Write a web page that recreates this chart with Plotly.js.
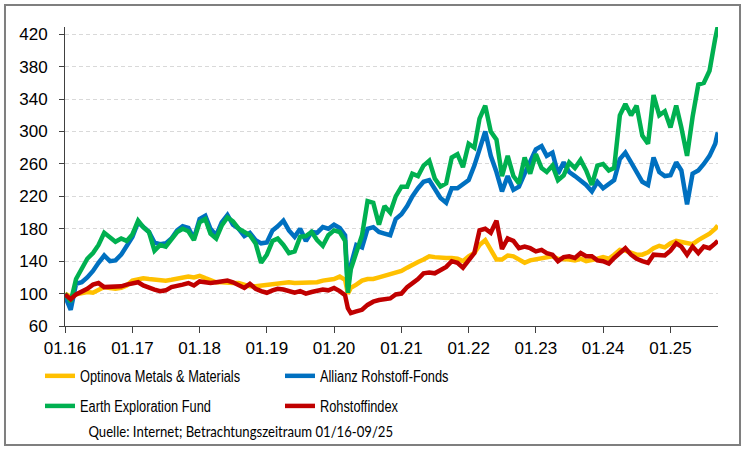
<!DOCTYPE html>
<html>
<head>
<meta charset="utf-8">
<script src="https://cdn.plot.ly/plotly-3.0.1.min.js"></script>
<style>
html,body{margin:0;padding:0;background:#fff;}
#chart{width:742px;height:454px;}
</style>
</head>
<body>
<div id="chart"></div>
<script>
// Dates: monthly (first of month) plus two extra points (Covid low, last day)
const dates = [
'2016-01-01','2016-02-01','2016-03-01','2016-04-01','2016-05-01','2016-06-01','2016-07-01','2016-08-01','2016-09-01','2016-10-01','2016-11-01','2016-12-01',
'2017-01-01','2017-02-01','2017-03-01','2017-04-01','2017-05-01','2017-06-01','2017-07-01','2017-08-01','2017-09-01','2017-10-01','2017-11-01','2017-12-01',
'2018-01-01','2018-02-01','2018-03-01','2018-04-01','2018-05-01','2018-06-01','2018-07-01','2018-08-01','2018-09-01','2018-10-01','2018-11-01','2018-12-01',
'2019-01-01','2019-02-01','2019-03-01','2019-04-01','2019-05-01','2019-06-01','2019-07-01','2019-08-01','2019-09-01','2019-10-01','2019-11-01','2019-12-01',
'2020-01-01','2020-02-01','2020-03-01','2020-03-16','2020-04-01','2020-05-01','2020-06-01','2020-07-01','2020-08-01','2020-09-01','2020-10-01','2020-11-01','2020-12-01',
'2021-01-01','2021-02-01','2021-03-01','2021-04-01','2021-05-01','2021-06-01','2021-07-01','2021-08-01','2021-09-01','2021-10-01','2021-11-01','2021-12-01',
'2022-01-01','2022-02-01','2022-03-01','2022-04-01','2022-05-01','2022-06-01','2022-07-01','2022-08-01','2022-09-01','2022-10-01','2022-11-01','2022-12-01',
'2023-01-01','2023-02-01','2023-03-01','2023-04-01','2023-05-01','2023-06-01','2023-07-01','2023-08-01','2023-09-01','2023-10-01','2023-11-01','2023-12-01',
'2024-01-01','2024-02-01','2024-03-01','2024-04-01','2024-05-01','2024-06-01','2024-07-01','2024-08-01','2024-09-01','2024-10-01','2024-11-01','2024-12-01',
'2025-01-01','2025-02-01','2025-03-01','2025-04-01','2025-05-01','2025-06-01','2025-07-01','2025-08-01','2025-09-01','2025-09-15'
];

const seriesNames = ['Optinova Metals & Materials','Allianz Rohstoff-Fonds','Earth Exploration Fund','Rohstoffindex'];

const optinova = [
100,96,99,101,102,101,104,108,107,106,107,110,
116,118,119,118,117,116,116,117,118,120,121,120,
122,119,116,114,114,113,113,113,111,109,109,110,
110,112,113,114,114,113,113,114,114,114,116,117,
118,121,117,100,107,111,116,118,118,120,122,124,126,
128,132,136,139,142,146,145,144,144,144,143,140,
146,150,160,166,154,142,142,147,146,142,138,141,
142,143,144,146,143,143,142,141,143,140,141,143,
145,143,148,154,153,150,148,148,151,156,159,157,
162,165,164,163,161,166,170,174,180,184
];

const allianz = [
97,80,112,114,120,128,138,147,140,141,148,158,
170,188,182,176,163,161,162,168,178,183,181,168,
192,196,180,172,188,197,185,180,171,175,166,162,
163,178,183,190,178,170,180,165,176,175,182,180,
185,181,172,108,135,160,157,180,182,176,174,172,192,
198,208,220,230,238,240,228,218,212,230,230,235,
240,258,280,300,270,250,226,245,228,232,248,262,
278,282,270,274,248,262,250,245,240,234,226,238,
230,236,240,266,274,262,250,238,234,268,250,245,
246,262,252,210,248,252,260,270,285,299
];

const earth = [
100,90,118,130,143,150,160,175,170,164,168,165,
173,190,182,176,153,160,158,167,176,180,177,166,
188,192,174,168,184,194,189,180,176,172,162,138,
148,165,168,160,150,152,170,171,176,166,159,172,
178,176,165,101,130,150,172,214,212,185,208,200,220,
232,232,248,245,258,264,242,232,236,268,272,256,
285,280,316,332,300,290,245,270,245,236,268,248,
272,255,250,258,240,246,262,255,265,252,234,258,
260,252,255,320,334,320,332,295,285,345,320,325,
305,332,305,270,318,358,360,375,415,430
];

const rohstoff = [
99,93,99,102,106,111,113,108,108,109,109,111,
113,114,110,107,105,103,104,108,109,111,113,110,
115,114,113,114,115,116,114,111,107,112,106,103,
101,104,106,105,103,101,103,100,102,104,105,104,
107,103,98,82,76,78,80,86,90,92,93,94,99,
100,108,112,118,125,126,125,129,133,140,138,132,
142,150,178,180,175,190,155,168,165,156,158,156,
152,154,150,148,140,145,146,144,150,146,146,141,
140,137,144,150,156,148,143,140,138,148,147,147,
153,162,158,148,158,150,158,156,162,165
];

const yTicks = [60,100,140,180,220,260,300,340,380,420];
const sourceText = 'Quelle: Internet; Betrachtungszeitraum 01/16-09/25';

const colors = ['#FFC000','#0070C0','#00B050','#C00000'];
const values = [optinova, allianz, earth, rohstoff];
const legendIds = ['legend','legend','legend2','legend2'];

const traces = values.map((v,i)=>({
  type:'scatter', mode:'lines', x:dates, y:v, name:seriesNames[i],
  line:{color:colors[i], width:4.5, shape:'linear'},
  legend:legendIds[i], hoverinfo:'skip'
}));

const legendFont = {family:'"Liberation Sans", Arial, sans-serif', size:16, color:'#000'};
const tickFont = {family:'"Liberation Sans", Arial, sans-serif', size:17, color:'#000'};

const layout = {
  width:742, height:454,
  margin:{l:65, r:24, t:27, b:128, pad:0},
  paper_bgcolor:'#fff', plot_bgcolor:'#fff',
  showlegend:true,
  xaxis:{
    type:'date', range:['2016-01-01','2025-09-16'],
    tick0:'2016-01-01', dtick:'M12', tickformat:'%m.%y',
    showgrid:false, zeroline:false,
    showline:true, linecolor:'#404040', linewidth:1,
    ticks:'outside', ticklen:6, tickcolor:'#404040', tickwidth:1,
    tickfont:tickFont, ticklabelstandoff:1
  },
  yaxis:{
    range:[60,429], tickvals:yTicks, ticktext:yTicks.map(String),
    showgrid:true, gridcolor:'#d9d9d9', gridwidth:1, griddash:'4px,3px',
    zeroline:false, showline:true, linecolor:'#404040', linewidth:1,
    ticks:'outside', ticklen:5, tickcolor:'#404040', tickwidth:1,
    tickfont:tickFont, ticklabelstandoff:8
  },
  legend:{orientation:'h', x:-0.0383, xanchor:'left', y:-0.167, yanchor:'middle',
    entrywidth:195, entrywidthmode:'pixels', font:legendFont, bgcolor:'rgba(0,0,0,0)', itemwidth:30, traceorder:'normal'},
  legend2:{orientation:'h', x:-0.0383, xanchor:'left', y:-0.2676, yanchor:'middle',
    entrywidth:195, entrywidthmode:'pixels', font:legendFont, bgcolor:'rgba(0,0,0,0)', itemwidth:30, traceorder:'normal'},
  annotations:[{
    xref:'paper', yref:'paper', x:0.270, y:-0.351, xanchor:'center', yanchor:'middle',
    text:sourceText, showarrow:false,
    font:{family:'Lato, "Open Sans", sans-serif', size:16, color:'#000'}
  }],
  shapes:[{
    type:'rect', xref:'paper', yref:'paper',
    x0:-0.0919, x1:1.0337, y0:-0.398, y1:1.0736,
    line:{color:'#7f7f7f', width:2}, fillcolor:'rgba(0,0,0,0)', layer:'below'
  }]
};

// condense legend and source texts (the original uses a narrow typeface)
function squeeze(t, f){
  if(t.getAttribute('data-sq')) return;
  const w = t.getComputedTextLength();
  t.setAttribute('textLength', (w*f).toFixed(1));
  t.setAttribute('lengthAdjust','spacingAndGlyphs');
  t.setAttribute('data-sq','1');
}
function condense(){
  const gd = document.getElementById('chart');
  gd.querySelectorAll('text').forEach(t=>{
    const s = t.textContent;
    if(seriesNames.indexOf(s) >= 0) squeeze(t, 0.8);
    else if(s === sourceText) squeeze(t, 0.82);
  });
}

Plotly.newPlot('chart', traces, layout, {staticPlot:true, displayModeBar:false}).then(()=>{
  condense();
  setTimeout(condense, 50);
  setTimeout(condense, 300);
});
</script>
</body>
</html>
